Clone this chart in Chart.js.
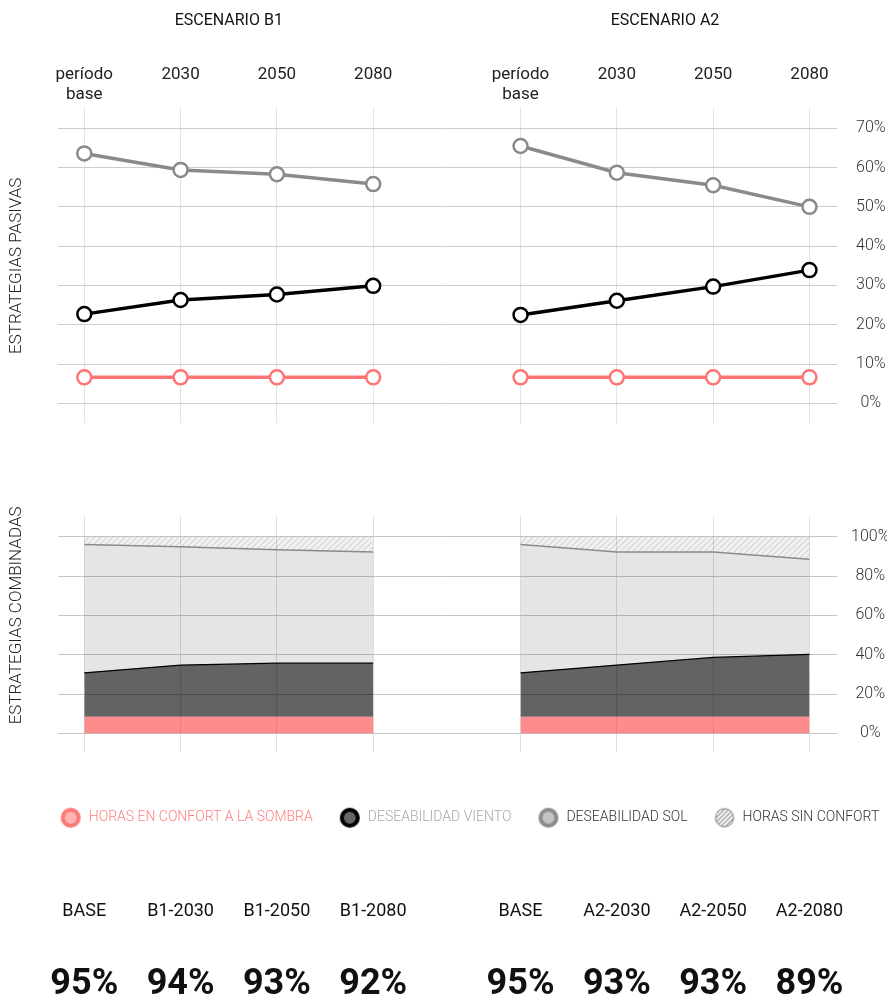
<!DOCTYPE html>
<html lang="es">
<head>
<meta charset="utf-8">
<title>Estrategias pasivas y combinadas</title>
<script src="https://cdn.jsdelivr.net/npm/chart.js@4.4.0/dist/chart.umd.min.js"></script>
<style>
  html, body { margin: 0; padding: 0; background: #fff; }
  #lienzo { width: 887px; height: 1003px; }
  canvas { display: block; }
</style>
</head>
<body>
<div id="lienzo">
  <canvas id="pasivas" width="887" height="440"></canvas>
  <canvas id="combinadas" width="887" height="563"></canvas>
</div>
<script>
// --- datos ---
const periodos = [['período', 'base'], '2030', '2050', '2080'];
const escenarios = ['ESCENARIO B1', 'ESCENARIO A2'];

// estrategias pasivas (% de horas)
const solB1     = [63.6, 59.4, 58.3, 55.8];
const vientoB1  = [22.7, 26.3, 27.7, 29.9];
const sombraB1  = [6.6, 6.6, 6.6, 6.6];
const solA2     = [65.5, 58.7, 55.5, 50.0];
const vientoA2  = [22.5, 26.1, 29.7, 33.9];
const sombraA2  = [6.6, 6.6, 6.6, 6.6];

// estrategias combinadas (límite superior acumulado de cada franja, %)
const combSombraB1 = [8.4, 8.4, 8.4, 8.4];
const combVientoB1 = [30.8, 34.7, 35.7, 35.7];
const combSolB1    = [96.1, 94.9, 93.4, 92.3];
const combTotalB1  = [100, 100, 100, 100];
const combSombraA2 = [8.4, 8.4, 8.4, 8.4];
const combVientoA2 = [30.8, 34.7, 38.6, 40.2];
const combSolA2    = [96.1, 92.3, 92.3, 88.5];
const combTotalA2  = [100, 100, 100, 100];

// resumen inferior
const resumenB1 = ['BASE', 'B1-2030', 'B1-2050', 'B1-2080'];
const confortB1 = [95, 94, 93, 92];
const resumenA2 = ['BASE', 'A2-2030', 'A2-2050', 'A2-2080'];
const confortA2 = [95, 93, 93, 89];

const ticksPasivas = [0, 10, 20, 30, 40, 50, 60, 70];
const ticksCombinadas = [0, 20, 40, 60, 80, 100];

const leyenda = ['HORAS EN CONFORT A LA SOMBRA', 'DESEABILIDAD VIENTO', 'DESEABILIDAD SOL', 'HORAS SIN CONFORT'];

// --- disposición ---
const DESPLAZ_A2 = 4.53;           // separación entre los dos escenarios (en columnas)
const X_MIN = -0.273, X_MAX = 7.816;
const posB1 = periodos.map((_, i) => i);
const posA2 = periodos.map((_, i) => i + DESPLAZ_A2);
const grupos = [
  { titulo: escenarios[0], pos: posB1, etiquetas: resumenB1, confort: confortB1 },
  { titulo: escenarios[1], pos: posA2, etiquetas: resumenA2, confort: confortA2 }
];

const FUENTE = 'Roboto, "Noto Sans", sans-serif';
Chart.defaults.font.family = FUENTE;
Chart.defaults.color = '#333';

const ROSA = '#ff7474', NEGRO = '#000', GRIS = '#8a8a8a';

const puntos = (valores, pos) => valores.map((v, i) => ({ x: pos[i], y: v }));

// ticks fijos en columnas y en porcentajes
const ticksX = s => { s.ticks = posB1.concat(posA2).map(v => ({ value: v })); };
const ticksY = lista => s => { s.ticks = lista.map(v => ({ value: v })); };
const anchoFijo = w => s => { s.width = w; s.paddingTop = 0; s.paddingBottom = 0; };

// título vertical a la izquierda
const tituloLateral = {
  id: 'tituloLateral',
  afterDraw(chart, args, opts) {
    const { ctx, chartArea } = chart;
    const y = opts.centro != null ? chart.scales.y.getPixelForValue(opts.centro) : (chartArea.top + chartArea.bottom) / 2;
    ctx.save();
    ctx.translate(17, y);
    ctx.rotate(-Math.PI / 2);
    ctx.font = '300 17px ' + FUENTE;
    ctx.fillStyle = '#222';
    ctx.textAlign = 'center';
    ctx.textBaseline = 'middle';
    ctx.fillText(opts.texto, 0, 0);
    ctx.restore();
  }
};

// títulos de escenario
const titulosEscenario = {
  id: 'titulosEscenario',
  afterDraw(chart) {
    const { ctx, scales: { x } } = chart;
    ctx.save();
    ctx.font = '16px ' + FUENTE;
    ctx.fillStyle = '#111';
    ctx.textAlign = 'center';
    ctx.textBaseline = 'middle';
    grupos.forEach(g => {
      const cx = (x.getPixelForValue(g.pos[0]) + x.getPixelForValue(g.pos[g.pos.length - 1])) / 2;
      ctx.fillText(g.titulo, cx, 20.5);
    });
    ctx.restore();
  }
};

// etiquetas y porcentajes de confort bajo la leyenda
const resumen = {
  id: 'resumen',
  afterDraw(chart) {
    const { ctx, scales: { x } } = chart;
    ctx.save();
    ctx.textAlign = 'center';
    ctx.textBaseline = 'middle';
    ctx.fillStyle = '#111';
    grupos.forEach(g => g.etiquetas.forEach((t, i) => {
      const px = x.getPixelForValue(g.pos[i]);
      ctx.font = '18px ' + FUENTE;
      ctx.fillText(t, px, 471);
      ctx.font = 'bold 36px ' + FUENTE;
      ctx.fillText(g.confort[i] + '%', px, 545);
    }));
    ctx.restore();
  }
};

// ——— Gráfico superior: estrategias pasivas ———
function linea(valores, pos, color) {
  return {
    data: puntos(valores, pos),
    borderColor: color,
    borderWidth: 3.5,
    pointRadius: 7,
    pointHoverRadius: 7,
    pointBorderWidth: 2.5,
    pointBackgroundColor: '#fff',
    pointBorderColor: color
  };
}

new Chart(document.getElementById('pasivas'), {
  type: 'line',
  data: {
    datasets: [
      linea(sombraB1, posB1, ROSA), linea(vientoB1, posB1, NEGRO), linea(solB1, posB1, GRIS),
      linea(sombraA2, posA2, ROSA), linea(vientoA2, posA2, NEGRO), linea(solA2, posA2, GRIS)
    ]
  },
  options: {
    responsive: false,
    animation: false,
    layout: { padding: { top: 61.5, left: 58, right: 0, bottom: 16.7 } },
    plugins: {
      legend: { display: false },
      tooltip: { enabled: false },
      tituloLateral: { texto: 'ESTRATEGIAS PASIVAS' }
    },
    scales: {
      x: {
        type: 'linear', position: 'top', min: X_MIN, max: X_MAX,
        afterBuildTicks: ticksX,
        ticks: {
          autoSkip: false, maxRotation: 0, crossAlign: 'far', padding: 3,
          color: '#222', font: { size: 17, lineHeight: 1.2 },
          callback: (v, i) => periodos[i % periodos.length]
        },
        grid: { color: '#e4e4e4', drawTicks: false },
        border: { display: false }
      },
      y: {
        position: 'right', min: -5.09, max: 75.09,
        afterBuildTicks: ticksY(ticksPasivas),
        afterFit: anchoFijo(50),
        ticks: { crossAlign: 'center', padding: 19, color: '#333', font: { size: 16, weight: '300' }, callback: v => v + '%' },
        grid: { color: '#cdcdcd', drawTicks: false },
        border: { display: false }
      }
    }
  },
  plugins: [tituloLateral, titulosEscenario]
});

// ——— Gráfico inferior: estrategias combinadas ———
const ctxComb = document.getElementById('combinadas').getContext('2d');

function teselaRayada(tam) {
  const c = document.createElement('canvas');
  c.width = c.height = tam;
  const g = c.getContext('2d');
  g.fillStyle = 'rgba(0,0,0,0.05)';
  g.fillRect(0, 0, tam, tam);
  g.strokeStyle = 'rgba(0,0,0,0.13)';
  g.lineWidth = 1.2;
  g.beginPath();
  g.moveTo(0, tam); g.lineTo(tam, 0);
  g.moveTo(-1, 1); g.lineTo(1, -1);
  g.moveTo(tam - 1, tam + 1); g.lineTo(tam + 1, tam - 1);
  g.stroke();
  return c;
}
const rayado = ctxComb.createPattern(teselaRayada(6), 'repeat');

function franja(valores, pos, relleno, fondo, borde, ancho) {
  return {
    data: puntos(valores, pos),
    fill: relleno,
    backgroundColor: fondo,
    borderColor: borde,
    borderWidth: ancho,
    pointRadius: 0,
    pointHoverRadius: 0
  };
}

function bloque(sombra, viento, sol, total, pos) {
  return [
    franja(sombra, pos, 'origin', 'rgba(255,70,70,0.62)', 'rgba(0,0,0,0)', 0),
    franja(viento, pos, '-1', 'rgba(0,0,0,0.61)', '#000', 1.3),
    franja(sol, pos, '-1', 'rgba(0,0,0,0.1)', '#8a8a8a', 1.5),
    franja(total, pos, '-1', rayado, 'rgba(0,0,0,0)', 0)
  ];
}

// iconos de la leyenda
function icono(dibujar) {
  const c = document.createElement('canvas');
  c.width = c.height = 22;
  dibujar(c.getContext('2d'));
  return c;
}
const anillo = (relleno, borde) => icono(g => {
  g.beginPath(); g.arc(11, 11, 8, 0, Math.PI * 2);
  g.fillStyle = relleno; g.fill();
  g.lineWidth = 4; g.strokeStyle = borde; g.stroke();
});
const iconos = [
  anillo('#ffb4b4', '#ff7878'),
  anillo('#666', '#000'),
  anillo('#c4c4c4', '#8c8c8c'),
  icono(g => {
    g.save();
    g.beginPath(); g.arc(11, 11, 9, 0, Math.PI * 2); g.clip();
    g.strokeStyle = '#9a9a9a'; g.lineWidth = 1.3;
    g.beginPath();
    for (let k = -22; k < 44; k += 4.5) { g.moveTo(k, 22); g.lineTo(k + 22, 0); }
    g.stroke();
    g.restore();
    g.beginPath(); g.arc(11, 11, 9, 0, Math.PI * 2);
    g.lineWidth = 1.3; g.strokeStyle = '#9a9a9a'; g.stroke();
  })
];
const coloresLeyenda = ['#ff7f7f', '#a8a8a8', '#333', '#333'];

new Chart(ctxComb, {
  type: 'line',
  data: {
    datasets: [
      ...bloque(combSombraB1, combVientoB1, combSolB1, combTotalB1, posB1),
      ...bloque(combSombraA2, combVientoA2, combSolA2, combTotalA2, posA2)
    ]
  },
  options: {
    responsive: false,
    animation: false,
    // márgenes asimétricos para que la leyenda quepa en una fila y quede centrada como en el original
    layout: { padding: { top: 76.7, left: 28, right: -24, bottom: 168.3 } },
    plugins: {
      tooltip: { enabled: false },
      tituloLateral: { texto: 'ESTRATEGIAS COMBINADAS', centro: 60 },
      legend: {
        position: 'bottom',
        labels: {
          usePointStyle: true,
          pointStyleWidth: 22,
          boxHeight: 14,
          padding: 26,
          font: { size: 14, weight: '300' },
          generateLabels: () => leyenda.map((t, i) => ({
            text: t, fontColor: coloresLeyenda[i], pointStyle: iconos[i],
            fillStyle: 'transparent', strokeStyle: 'transparent', lineWidth: 0, hidden: false
          }))
        }
      }
    },
    scales: {
      x: {
        type: 'linear', position: 'bottom', min: X_MIN, max: X_MAX,
        afterBuildTicks: ticksX,
        afterFit: s => { s.height = 32.7; },
        ticks: { display: false },
        grid: { color: '#dedede', drawTicks: false },
        border: { display: false }
      },
      y: {
        position: 'right', min: -9.5, max: 110.2,
        afterBuildTicks: ticksY(ticksCombinadas),
        afterFit: anchoFijo(74),
        ticks: { crossAlign: 'center', padding: 14, color: '#333', font: { size: 16, weight: '300' }, callback: v => v + '%' },
        grid: { color: '#c6c6c6', drawTicks: false },
        border: { display: false }
      },
      yl: {
        position: 'left',
        afterFit: anchoFijo(30),
        ticks: { display: false },
        grid: { display: false, drawTicks: false },
        border: { display: false }
      }
    }
  },
  plugins: [tituloLateral, resumen]
});
</script>
</body>
</html>
